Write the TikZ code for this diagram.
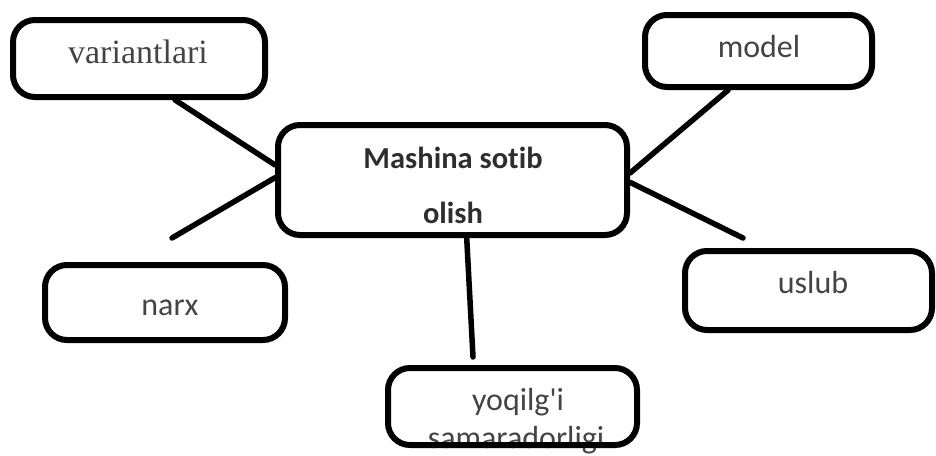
\documentclass[tikz,border=0pt]{standalone}
\usepackage{fontspec}
\setmainfont[Ligatures={NoCommon}]{Carlito}
\newfontfamily\serifface{Liberation Serif}
\usetikzlibrary{calc}
\definecolor{txtgray}{HTML}{444444}
\definecolor{txtdark}{HTML}{2E2E2E}
\tikzset{
  box/.style={draw=black, line width=6pt, rounded corners=22pt, minimum width=#1, inner sep=0pt, fill=none},
  conn/.style={line width=5.5pt, line cap=round},
  lbl/.style={anchor=base, inner sep=0pt, text=txtgray, font=\fontsize{32}{36}\selectfont},
  blbl/.style={anchor=base, inner sep=0pt, text=txtdark, font=\fontsize{30.5}{34}\selectfont\bfseries},
  slbl/.style={anchor=base, inner sep=0pt, text=txtgray, font=\serifface\fontsize{34}{38}\selectfont},
}
\begin{document}
\begin{tikzpicture}[x=1pt, y=-1pt]
\useasboundingbox (0,0) rectangle (936,455);
% text first (so that borders overlap it)
\node[slbl] (tvar) at (138,63) {variantlari};
\node[lbl] (tmodel) at (759,57) {model};
\node[blbl] (tc1) at (453,168) {Mashina sotib};
\node[blbl] (tc2) at (453,223) {olish};
\node[lbl] (tuslub) at (813,293) {uslub};
\node[lbl] (tnarx) at (170,315) {narx};
\node[lbl] (tfuel1) at (518,410) {yoqilg\textquotesingle i};
\node[lbl] (tfuel2) at (516,448) {samaradorligi};
% boxes
\node[box=252pt, minimum height=77pt] (var) at (139,58.5) {};
\node[box=349pt, minimum height=110pt] (center) at (452.5,180) {};
\node[box=227pt, minimum height=72pt] (model) at (758.5,51) {};
\node[box=247pt, minimum height=79pt] (uslub) at (808.5,290.5) {};
\node[box=240pt, minimum height=75pt] (narx) at (165,302.5) {};
\node[box=249pt, minimum height=77pt] (fuel) at (512.5,406.5) {};
% free ends
\coordinate (narxend) at (172,238);
\coordinate (uslubend) at (743,238);
\coordinate (fuelend) at (473,357);
% connectors
\draw[conn] ($(var.south west)!0.64!(var.south east)$) -- ($(center.north west)!0.37!(center.south west)$);
\draw[conn] ($(center.north west)!0.48!(center.south west)$) -- (narxend);
\draw[conn] ($(model.south west)!0.37!(model.south east)$) -- ($(center.north east)!0.44!(center.south east)$);
\draw[conn] ($(center.north east)!0.52!(center.south east)$) -- (uslubend);
\draw[conn] ($(center.south west)!0.54!(center.south east)$) -- (fuelend);
\end{tikzpicture}
\end{document}
